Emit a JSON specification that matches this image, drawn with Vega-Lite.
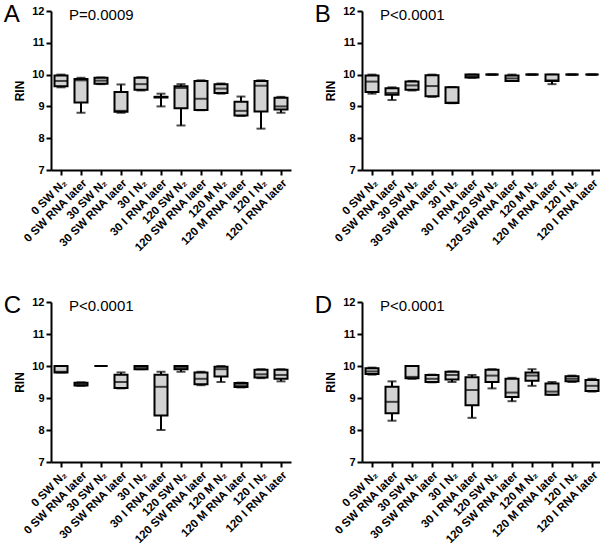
{
  "$schema": "https://vega.github.io/schema/vega-lite/v6.json",
  "padding": {"left": 3, "top": 3, "right": 0, "bottom": 0},
  "autosize": {"type": "pad"},
  "background": "white",
  "datasets": {
    "boxes": [
      {"panel": "A", "group": "0 SW N₂", "min": 9.6, "q1": 9.63, "med": 9.8, "q3": 9.97, "max": 10.0},
      {"panel": "A", "group": "0 SW RNA later", "min": 8.8, "q1": 9.12, "med": 9.82, "q3": 9.86, "max": 9.9},
      {"panel": "A", "group": "30 SW N₂", "min": 9.7, "q1": 9.71, "med": 9.81, "q3": 9.9, "max": 9.91},
      {"panel": "A", "group": "30 SW RNA later", "min": 8.8, "q1": 8.83, "med": 8.86, "q3": 9.45, "max": 9.69},
      {"panel": "A", "group": "30 I N₂", "min": 9.5, "q1": 9.52, "med": 9.7, "q3": 9.9, "max": 9.92},
      {"panel": "A", "group": "30 I RNA later", "min": 9.0, "q1": 9.28, "med": 9.3, "q3": 9.3, "max": 9.4},
      {"panel": "A", "group": "120 SW N₂", "min": 8.4, "q1": 8.94, "med": 9.58, "q3": 9.63, "max": 9.7},
      {"panel": "A", "group": "120 SW RNA later", "min": 8.88, "q1": 8.89, "med": 9.24, "q3": 9.8, "max": 9.82},
      {"panel": "A", "group": "120 M N₂", "min": 9.4, "q1": 9.42, "med": 9.56, "q3": 9.7, "max": 9.72},
      {"panel": "A", "group": "120 M RNA later", "min": 8.7, "q1": 8.71, "med": 8.86, "q3": 9.15, "max": 9.31},
      {"panel": "A", "group": "120 I N₂", "min": 8.3, "q1": 8.84, "med": 9.65, "q3": 9.8, "max": 9.82},
      {"panel": "A", "group": "120 I RNA later", "min": 8.8, "q1": 8.9, "med": 9.0, "q3": 9.27, "max": 9.3},

      {"panel": "B", "group": "0 SW N₂", "min": 9.4, "q1": 9.45, "med": 9.78, "q3": 9.97, "max": 10.0},
      {"panel": "B", "group": "0 SW RNA later", "min": 9.2, "q1": 9.37, "med": 9.42, "q3": 9.57, "max": 9.6},
      {"panel": "B", "group": "30 SW N₂", "min": 9.5, "q1": 9.52, "med": 9.66, "q3": 9.78, "max": 9.8},
      {"panel": "B", "group": "30 SW RNA later", "min": 9.3, "q1": 9.32, "med": 9.64, "q3": 9.98, "max": 10.0},
      {"panel": "B", "group": "30 I N₂", "min": 9.1, "q1": 9.11, "med": 9.12, "q3": 9.6, "max": 9.61},
      {"panel": "B", "group": "30 I RNA later", "min": 9.9, "q1": 9.91, "med": 9.95, "q3": 10.0, "max": 10.0},
      {"panel": "B", "group": "120 SW N₂", "min": 10.0, "q1": 10.0, "med": 10.0, "q3": 10.0, "max": 10.0},
      {"panel": "B", "group": "120 SW RNA later", "min": 9.8, "q1": 9.8, "med": 9.88, "q3": 9.97, "max": 10.0},
      {"panel": "B", "group": "120 M N₂", "min": 10.0, "q1": 10.0, "med": 10.0, "q3": 10.0, "max": 10.0},
      {"panel": "B", "group": "120 M RNA later", "min": 9.7, "q1": 9.8, "med": 9.82, "q3": 10.0, "max": 10.0},
      {"panel": "B", "group": "120 I N₂", "min": 10.0, "q1": 10.0, "med": 10.0, "q3": 10.0, "max": 10.0},
      {"panel": "B", "group": "120 I RNA later", "min": 10.0, "q1": 10.0, "med": 10.0, "q3": 10.0, "max": 10.0},

      {"panel": "C", "group": "0 SW N₂", "min": 9.8, "q1": 9.8, "med": 9.82, "q3": 10.0, "max": 10.0},
      {"panel": "C", "group": "0 SW RNA later", "min": 9.38, "q1": 9.39, "med": 9.43, "q3": 9.48, "max": 9.49},
      {"panel": "C", "group": "30 SW N₂", "min": 10.0, "q1": 10.0, "med": 10.0, "q3": 10.0, "max": 10.0},
      {"panel": "C", "group": "30 SW RNA later", "min": 9.3, "q1": 9.31, "med": 9.5, "q3": 9.73, "max": 9.8},
      {"panel": "C", "group": "30 I N₂", "min": 9.9, "q1": 9.9, "med": 9.95, "q3": 10.0, "max": 10.0},
      {"panel": "C", "group": "30 I RNA later", "min": 8.0, "q1": 8.45, "med": 9.35, "q3": 9.73, "max": 9.82},
      {"panel": "C", "group": "120 SW N₂", "min": 9.82, "q1": 9.9, "med": 9.95, "q3": 10.0, "max": 10.0},
      {"panel": "C", "group": "120 SW RNA later", "min": 9.4, "q1": 9.43, "med": 9.6, "q3": 9.8, "max": 9.82},
      {"panel": "C", "group": "120 M N₂", "min": 9.5, "q1": 9.67, "med": 9.9, "q3": 9.98, "max": 10.0},
      {"panel": "C", "group": "120 M RNA later", "min": 9.33, "q1": 9.34, "med": 9.4, "q3": 9.47, "max": 9.48},
      {"panel": "C", "group": "120 I N₂", "min": 9.62, "q1": 9.64, "med": 9.74, "q3": 9.88, "max": 9.9},
      {"panel": "C", "group": "120 I RNA later", "min": 9.52, "q1": 9.6, "med": 9.72, "q3": 9.88, "max": 9.9},

      {"panel": "D", "group": "0 SW N₂", "min": 9.73, "q1": 9.75, "med": 9.83, "q3": 9.93, "max": 9.95},
      {"panel": "D", "group": "0 SW RNA later", "min": 8.29, "q1": 8.52, "med": 8.88, "q3": 9.35, "max": 9.52},
      {"panel": "D", "group": "30 SW N₂", "min": 9.6, "q1": 9.62, "med": 9.66, "q3": 10.0, "max": 10.0},
      {"panel": "D", "group": "30 SW RNA later", "min": 9.49, "q1": 9.5, "med": 9.6, "q3": 9.72, "max": 9.73},
      {"panel": "D", "group": "30 I N₂", "min": 9.5, "q1": 9.58, "med": 9.72, "q3": 9.82, "max": 9.83},
      {"panel": "D", "group": "30 I RNA later", "min": 8.38, "q1": 8.77, "med": 9.25, "q3": 9.65, "max": 9.72},
      {"panel": "D", "group": "120 SW N₂", "min": 9.3, "q1": 9.5, "med": 9.7, "q3": 9.88, "max": 9.9},
      {"panel": "D", "group": "120 SW RNA later", "min": 8.9, "q1": 9.03, "med": 9.17, "q3": 9.6, "max": 9.63},
      {"panel": "D", "group": "120 M N₂", "min": 9.38, "q1": 9.54, "med": 9.7, "q3": 9.8, "max": 9.9},
      {"panel": "D", "group": "120 M RNA later", "min": 9.1, "q1": 9.1, "med": 9.2, "q3": 9.45, "max": 9.5},
      {"panel": "D", "group": "120 I N₂", "min": 9.5, "q1": 9.52, "med": 9.6, "q3": 9.68, "max": 9.7},
      {"panel": "D", "group": "120 I RNA later", "min": 9.2, "q1": 9.22, "med": 9.38, "q3": 9.56, "max": 9.6}
    ],
    "pvals": [
      {"panel": "A", "label": "P=0.0009"},
      {"panel": "B", "label": "P<0.0001"},
      {"panel": "C", "label": "P<0.0001"},
      {"panel": "D", "label": "P<0.0001"}
    ]
  },
  "vconcat": [
    {
      "spacing": 23,
      "hconcat": [
        {
          "width": 240, "height": 159,
          "title": {"text": "A", "anchor": "start", "frame": "bounds", "dx": -10, "offset": -22, "baseline": "top", "fontSize": 24, "fontWeight": "normal", "font": "Liberation Sans", "color": "black"},
          "encoding": {"x": {"field": "group", "type": "nominal", "sort": ["0 SW N₂", "0 SW RNA later", "30 SW N₂", "30 SW RNA later", "30 I N₂", "30 I RNA later", "120 SW N₂", "120 SW RNA later", "120 M N₂", "120 M RNA later", "120 I N₂", "120 I RNA later"], "scale": {"paddingInner": 0, "paddingOuter": 0}, "title": null}},
          "layer": [
            {"data": {"name": "boxes"}, "transform": [{"filter": "datum.panel === 'A'"}], "mark": {"type": "rule", "color": "black", "strokeWidth": 2}, "encoding": {"y": {"field": "min", "type": "quantitative", "title": "RIN", "scale": {"domain": [7, 12], "nice": false, "zero": false}}, "y2": {"field": "max"}}},
            {"data": {"name": "boxes"}, "transform": [{"filter": "datum.panel === 'A'"}], "mark": {"type": "tick", "color": "black", "thickness": 2, "size": 9}, "encoding": {"y": {"field": "min", "type": "quantitative", "title": "RIN"}}},
            {"data": {"name": "boxes"}, "transform": [{"filter": "datum.panel === 'A'"}], "mark": {"type": "tick", "color": "black", "thickness": 2, "size": 9}, "encoding": {"y": {"field": "max", "type": "quantitative", "title": "RIN"}}},
            {"data": {"name": "boxes"}, "transform": [{"filter": "datum.panel === 'A'"}], "mark": {"type": "bar", "fill": "#d3d3d3", "stroke": "black", "strokeWidth": 2, "size": 13}, "encoding": {"y": {"field": "q1", "type": "quantitative", "title": "RIN"}, "y2": {"field": "q3"}}},
            {"data": {"name": "boxes"}, "transform": [{"filter": "datum.panel === 'A'"}], "mark": {"type": "tick", "color": "black", "thickness": 2, "size": 13}, "encoding": {"y": {"field": "med", "type": "quantitative", "title": "RIN"}}},
            {"data": {"name": "pvals"}, "transform": [{"filter": "datum.panel === 'A'"}], "mark": {"type": "text", "align": "left", "baseline": "middle", "dx": 8, "fontSize": 15, "font": "Liberation Sans", "color": "black"}, "encoding": {"x": {"datum": "0 SW N₂"}, "y": {"datum": 11.87}, "text": {"field": "label"}}}
          ]
        },
        {
          "width": 240, "height": 159,
          "title": {"text": "B", "anchor": "start", "frame": "bounds", "dx": -10, "offset": -22, "baseline": "top", "fontSize": 24, "fontWeight": "normal", "font": "Liberation Sans", "color": "black"},
          "encoding": {"x": {"field": "group", "type": "nominal", "sort": ["0 SW N₂", "0 SW RNA later", "30 SW N₂", "30 SW RNA later", "30 I N₂", "30 I RNA later", "120 SW N₂", "120 SW RNA later", "120 M N₂", "120 M RNA later", "120 I N₂", "120 I RNA later"], "scale": {"paddingInner": 0, "paddingOuter": 0}, "title": null}},
          "layer": [
            {"data": {"name": "boxes"}, "transform": [{"filter": "datum.panel === 'B'"}], "mark": {"type": "rule", "color": "black", "strokeWidth": 2}, "encoding": {"y": {"field": "min", "type": "quantitative", "title": "RIN", "scale": {"domain": [7, 12], "nice": false, "zero": false}}, "y2": {"field": "max"}}},
            {"data": {"name": "boxes"}, "transform": [{"filter": "datum.panel === 'B'"}], "mark": {"type": "tick", "color": "black", "thickness": 2, "size": 9}, "encoding": {"y": {"field": "min", "type": "quantitative", "title": "RIN"}}},
            {"data": {"name": "boxes"}, "transform": [{"filter": "datum.panel === 'B'"}], "mark": {"type": "tick", "color": "black", "thickness": 2, "size": 9}, "encoding": {"y": {"field": "max", "type": "quantitative", "title": "RIN"}}},
            {"data": {"name": "boxes"}, "transform": [{"filter": "datum.panel === 'B'"}], "mark": {"type": "bar", "fill": "#d3d3d3", "stroke": "black", "strokeWidth": 2, "size": 13}, "encoding": {"y": {"field": "q1", "type": "quantitative", "title": "RIN"}, "y2": {"field": "q3"}}},
            {"data": {"name": "boxes"}, "transform": [{"filter": "datum.panel === 'B'"}], "mark": {"type": "tick", "color": "black", "thickness": 2, "size": 13}, "encoding": {"y": {"field": "med", "type": "quantitative", "title": "RIN"}}},
            {"data": {"name": "pvals"}, "transform": [{"filter": "datum.panel === 'B'"}], "mark": {"type": "text", "align": "left", "baseline": "middle", "dx": 8, "fontSize": 15, "font": "Liberation Sans", "color": "black"}, "encoding": {"x": {"datum": "0 SW N₂"}, "y": {"datum": 11.87}, "text": {"field": "label"}}}
          ]
        }
      ]
    },
    {
      "spacing": 23,
      "hconcat": [
        {
          "width": 240, "height": 160,
          "title": {"text": "C", "anchor": "start", "frame": "bounds", "dx": -10, "offset": -22, "baseline": "top", "fontSize": 24, "fontWeight": "normal", "font": "Liberation Sans", "color": "black"},
          "encoding": {"x": {"field": "group", "type": "nominal", "sort": ["0 SW N₂", "0 SW RNA later", "30 SW N₂", "30 SW RNA later", "30 I N₂", "30 I RNA later", "120 SW N₂", "120 SW RNA later", "120 M N₂", "120 M RNA later", "120 I N₂", "120 I RNA later"], "scale": {"paddingInner": 0, "paddingOuter": 0}, "title": null}},
          "layer": [
            {"data": {"name": "boxes"}, "transform": [{"filter": "datum.panel === 'C'"}], "mark": {"type": "rule", "color": "black", "strokeWidth": 2}, "encoding": {"y": {"field": "min", "type": "quantitative", "title": "RIN", "scale": {"domain": [7, 12], "nice": false, "zero": false}}, "y2": {"field": "max"}}},
            {"data": {"name": "boxes"}, "transform": [{"filter": "datum.panel === 'C'"}], "mark": {"type": "tick", "color": "black", "thickness": 2, "size": 9}, "encoding": {"y": {"field": "min", "type": "quantitative", "title": "RIN"}}},
            {"data": {"name": "boxes"}, "transform": [{"filter": "datum.panel === 'C'"}], "mark": {"type": "tick", "color": "black", "thickness": 2, "size": 9}, "encoding": {"y": {"field": "max", "type": "quantitative", "title": "RIN"}}},
            {"data": {"name": "boxes"}, "transform": [{"filter": "datum.panel === 'C'"}], "mark": {"type": "bar", "fill": "#d3d3d3", "stroke": "black", "strokeWidth": 2, "size": 13}, "encoding": {"y": {"field": "q1", "type": "quantitative", "title": "RIN"}, "y2": {"field": "q3"}}},
            {"data": {"name": "boxes"}, "transform": [{"filter": "datum.panel === 'C'"}], "mark": {"type": "tick", "color": "black", "thickness": 2, "size": 13}, "encoding": {"y": {"field": "med", "type": "quantitative", "title": "RIN"}}},
            {"data": {"name": "pvals"}, "transform": [{"filter": "datum.panel === 'C'"}], "mark": {"type": "text", "align": "left", "baseline": "middle", "dx": 8, "fontSize": 15, "font": "Liberation Sans", "color": "black"}, "encoding": {"x": {"datum": "0 SW N₂"}, "y": {"datum": 11.87}, "text": {"field": "label"}}}
          ]
        },
        {
          "width": 240, "height": 160,
          "title": {"text": "D", "anchor": "start", "frame": "bounds", "dx": -10, "offset": -22, "baseline": "top", "fontSize": 24, "fontWeight": "normal", "font": "Liberation Sans", "color": "black"},
          "encoding": {"x": {"field": "group", "type": "nominal", "sort": ["0 SW N₂", "0 SW RNA later", "30 SW N₂", "30 SW RNA later", "30 I N₂", "30 I RNA later", "120 SW N₂", "120 SW RNA later", "120 M N₂", "120 M RNA later", "120 I N₂", "120 I RNA later"], "scale": {"paddingInner": 0, "paddingOuter": 0}, "title": null}},
          "layer": [
            {"data": {"name": "boxes"}, "transform": [{"filter": "datum.panel === 'D'"}], "mark": {"type": "rule", "color": "black", "strokeWidth": 2}, "encoding": {"y": {"field": "min", "type": "quantitative", "title": "RIN", "scale": {"domain": [7, 12], "nice": false, "zero": false}}, "y2": {"field": "max"}}},
            {"data": {"name": "boxes"}, "transform": [{"filter": "datum.panel === 'D'"}], "mark": {"type": "tick", "color": "black", "thickness": 2, "size": 9}, "encoding": {"y": {"field": "min", "type": "quantitative", "title": "RIN"}}},
            {"data": {"name": "boxes"}, "transform": [{"filter": "datum.panel === 'D'"}], "mark": {"type": "tick", "color": "black", "thickness": 2, "size": 9}, "encoding": {"y": {"field": "max", "type": "quantitative", "title": "RIN"}}},
            {"data": {"name": "boxes"}, "transform": [{"filter": "datum.panel === 'D'"}], "mark": {"type": "bar", "fill": "#d3d3d3", "stroke": "black", "strokeWidth": 2, "size": 13}, "encoding": {"y": {"field": "q1", "type": "quantitative", "title": "RIN"}, "y2": {"field": "q3"}}},
            {"data": {"name": "boxes"}, "transform": [{"filter": "datum.panel === 'D'"}], "mark": {"type": "tick", "color": "black", "thickness": 2, "size": 13}, "encoding": {"y": {"field": "med", "type": "quantitative", "title": "RIN"}}},
            {"data": {"name": "pvals"}, "transform": [{"filter": "datum.panel === 'D'"}], "mark": {"type": "text", "align": "left", "baseline": "middle", "dx": 8, "fontSize": 15, "font": "Liberation Sans", "color": "black"}, "encoding": {"x": {"datum": "0 SW N₂"}, "y": {"datum": 11.87}, "text": {"field": "label"}}}
          ]
        }
      ]
    }
  ],
  "spacing": 40,
  "config": {
    "view": {"stroke": null},
    "axis": {"domainColor": "black", "domainWidth": 2, "tickColor": "black", "tickWidth": 2, "tickSize": 5, "labelColor": "black", "labelFont": "Liberation Sans", "labelFontWeight": "bold", "labelFontSize": 11, "titleFont": "Liberation Sans", "titleFontWeight": "bold", "titleFontSize": 12, "titleColor": "black", "grid": false, "labelOverlap": false, "labelBound": false},
    "axisX": {"labelAngle": -45, "labelAlign": "right", "labelBaseline": "top", "labelPadding": 2, "labelFontSize": 11.5},
    "axisY": {"values": [7, 8, 9, 10, 11, 12], "labelPadding": 2, "titlePadding": 5}
  }
}
